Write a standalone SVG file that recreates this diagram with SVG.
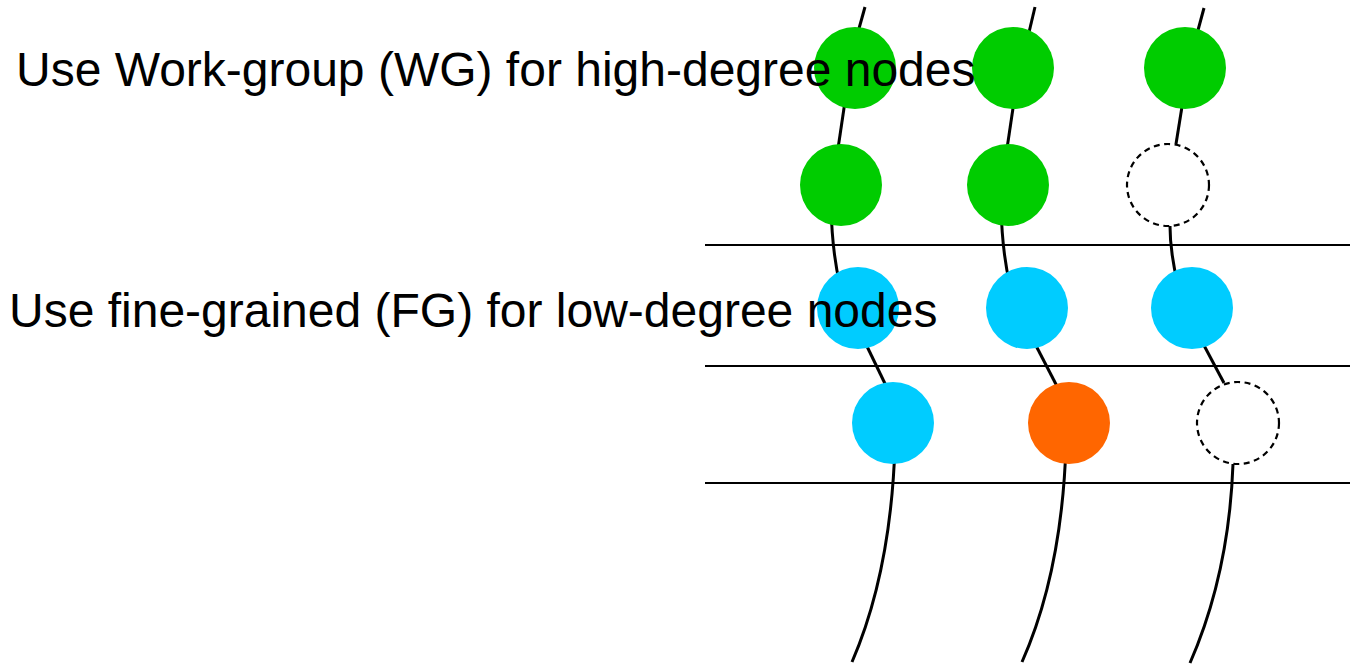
<svg xmlns="http://www.w3.org/2000/svg" width="1350" height="665" viewBox="0 0 1350 665">
  <style>
    .edge { fill: none; stroke: #000; stroke-width: 3; stroke-linecap: butt; }
    .rule { stroke: #000; stroke-width: 2; }
    .wg { fill: #00cc00; }
    .fg { fill: #00ccff; }
    .hot { fill: #ff6600; }
    .idle { fill: #fff; stroke: #000; stroke-width: 2.2; stroke-dasharray: 6 4.5; }
    .label { font-family: "Liberation Sans", Arial, sans-serif; font-size: 48px; fill: #000; }
  </style>
  <rect width="1350" height="665" fill="#fff"/>

  <!-- level separators -->
  <g id="separators">
    <line class="rule" x1="705" y1="245" x2="1350" y2="245"/>
    <line class="rule" x1="705" y1="366" x2="1350" y2="366"/>
    <line class="rule" x1="705" y1="483" x2="1350" y2="483"/>
  </g>

  <!-- threads linking the nodes in each column -->
  <g id="connectors">
    <path class="edge" d="M865,7 L853,50"/>
    <path class="edge" d="M847,88 L836,162"/>
    <path class="edge" d="M831,205 Q832,252 840,285"/>
    <path class="edge" d="M862,336 L890,394"/>
    <path class="edge" d="M895,445 Q891,572 852,662"/>

    <path class="edge" d="M1035,7 L1026,45"/>
    <path class="edge" d="M1016,88 L1005,162"/>
    <path class="edge" d="M1001,205 Q1002,252 1010,285"/>
    <path class="edge" d="M1031,336 L1061,394"/>
    <path class="edge" d="M1066,445 Q1062,572 1022,662"/>

    <path class="edge" d="M1204,8 L1194,45"/>
    <path class="edge" d="M1185,88 L1176,144"/>
    <path class="edge" d="M1170,226 Q1170,252 1178,285"/>
    <path class="edge" d="M1199,336 L1224,383"/>
    <path class="edge" d="M1233,464 Q1229,574 1190,663"/>
  </g>

  <g id="n-c1-r1"><circle class="wg" cx="855" cy="68" r="41"/></g>
  <g id="n-c2-r1"><circle class="wg" cx="1013" cy="68" r="41"/></g>
  <g id="n-c3-r1"><circle class="wg" cx="1185" cy="68" r="41"/></g>

  <g id="n-c1-r2"><circle class="wg" cx="841" cy="185" r="41"/></g>
  <g id="n-c2-r2"><circle class="wg" cx="1008" cy="185" r="41"/></g>
  <g id="n-c3-r2"><circle class="idle" cx="1168" cy="185" r="41"/></g>

  <g id="n-c1-r3"><circle class="fg" cx="858" cy="308" r="41"/></g>
  <g id="n-c2-r3"><circle class="fg" cx="1027" cy="308" r="41"/></g>
  <g id="n-c3-r3"><circle class="fg" cx="1192" cy="308" r="41"/></g>

  <g id="n-c1-r4"><circle class="fg" cx="893" cy="423" r="41"/></g>
  <g id="n-c2-r4"><circle class="hot" cx="1069" cy="423" r="41"/></g>
  <g id="n-c3-r4"><circle class="idle" cx="1238" cy="423" r="41"/></g>

  <g id="labels">
    <text class="label" x="16" y="86">Use Work-group (WG) for high-degree nodes</text>
    <text class="label" x="9" y="327">Use fine-grained (FG) for low-degree nodes</text>
  </g>
</svg>
